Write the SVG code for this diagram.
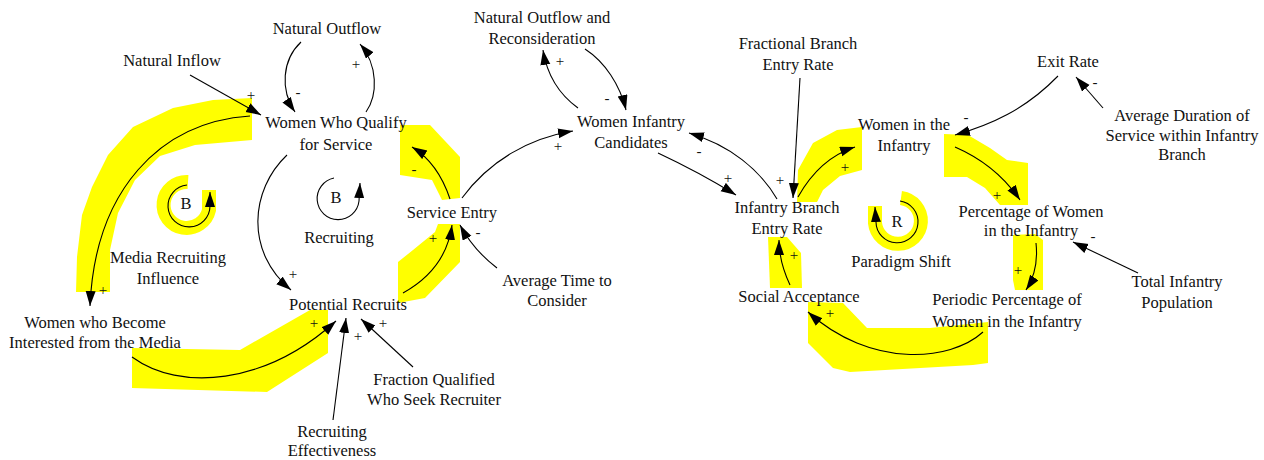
<svg xmlns="http://www.w3.org/2000/svg" width="1264" height="460" viewBox="0 0 1264 460">
<style>
.t{font-family:"Liberation Serif","Times New Roman",serif;font-size:16.5px;fill:#111;text-anchor:middle}
.p{font-family:"Liberation Serif","Times New Roman",serif;font-size:15px;fill:#111;text-anchor:middle}
.c{fill:none;stroke:#000;stroke-width:1.1;marker-end:url(#ah)}
.hl{fill:#ffff00;stroke:none}
.hs{fill:none;stroke:#ffff00;stroke-width:14}
</style>
<defs>
<marker id="ah" markerWidth="16" markerHeight="12" refX="15" refY="5" orient="auto" markerUnits="userSpaceOnUse"><path d="M0,0 L15,5 L0,10 Z" fill="#000"/></marker>
</defs>
<rect width="1264" height="460" fill="#fff"/>
<g id="highlights">
<path class="hl" d="M252,98 L213,100 L173,108 L133,127 L108,155 L92,187 L82,215 L77,257 L76,292 L110,292 L110,250 L118,213 L135,180 L160,156 L195,145 L252,140 Z"/>
<path class="hl" d="M132,348 L240,350 L310,310 L328,310 L328,353 L267,392 L132,388 Z"/>
<path class="hl" d="M400,125 L430,125 L460,157 L460,198 L442,200 L432,180 L400,175 Z"/>
<path class="hl" d="M438,224 L460,224 L460,262 L425,298 L398,303 L398,262 L413,250 L435,232 Z"/>
<path class="hl" d="M797,202 L798,170 L813,143 L837,130 L862,127 L862,170 L840,176 L823,190 L817,202 Z"/>
<path class="hl" d="M768,237 L787,237 L801,253 L802,288 L770,288 Z"/>
<path class="hl" d="M944,134 L968,135 L990,148 L1007,160 L1028,163 L1028,205 L1000,205 L985,188 L967,177 L944,177 Z"/>
<path class="hl" d="M1013,235 L1035,234 L1043,240 L1043,290 L1015,290 L1013,280 Z"/>
<path class="hl" d="M808,302 L843,303 L867,328 L930,328 L988,322 L988,363 L973,365 L850,372 L833,368 L808,343 Z"/>
<path class="hs" d="M188,182 A23,23 0 1,0 209,210 L209,190"/>
<path class="hs" d="M901,198 A23,23 0 1,1 875,223 L875,206"/>
</g>
<g id="connectors">
<path class="c" d="M190,75 L261,115"/>
<path class="c" d="M301,42 C282,60 280,90 295,112"/>
<path class="c" d="M366,112 C378,95 378,65 360,44"/>
<path class="c" d="M250,116 C160,122 95,190 90,306"/>
<path class="c" d="M287,155 C250,190 245,252 291,290"/>
<path class="c" d="M403,293 C430,278 448,255 452,225"/>
<path class="c" d="M450,199 C442,175 430,158 412,147"/>
<path class="c" d="M497,268 C480,255 468,240 460,225"/>
<path class="c" d="M462,198 C490,160 530,138 573,131"/>
<path class="c" d="M578,108 C560,95 547,75 543,50"/>
<path class="c" d="M585,49 C605,62 620,85 626,110"/>
<path class="c" d="M658,153 C690,168 715,182 736,195"/>
<path class="c" d="M777,199 C760,170 730,145 689,133"/>
<path class="c" d="M800,78 L793,198"/>
<path class="c" d="M798,197 C812,172 830,155 855,147"/>
<path class="c" d="M790,285 C782,268 779,255 779,240"/>
<path class="c" d="M1058,76 C1025,110 990,125 955,135"/>
<path class="c" d="M1103,108 L1076,77"/>
<path class="c" d="M955,147 C985,160 1005,178 1020,200"/>
<path class="c" d="M1036,243 C1038,262 1034,278 1026,290"/>
<path class="c" d="M1138,273 L1073,242"/>
<path class="c" d="M983,332 C950,362 870,368 808,312"/>
<path class="c" d="M132,357 C180,392 265,385 336,321"/>
<path class="c" d="M333,420 L346,318"/>
<path class="c" d="M413,367 L361,319"/>
</g>
<g id="loops">
<path class="c" d="M187,185 A21,21 0 1,0 210,206 L210,192"/>
<text class="t" x="186" y="209">B</text>
<path class="c" d="M334,178 A21,21 0 1,0 359,201 L360,183"/>
<text class="t" x="336" y="203">B</text>
<path class="c" d="M900,201 A21,21 0 1,1 876,222 L875,207"/>
<text class="t" x="897" y="227">R</text>
</g>
<g id="polarities">
<text class="p" x="251" y="100">+</text>
<text class="p" x="298" y="97">-</text>
<text class="p" x="356" y="69">+</text>
<text class="p" x="103" y="295">+</text>
<text class="p" x="293" y="279">+</text>
<text class="p" x="433" y="243">+</text>
<text class="p" x="414" y="174">-</text>
<text class="p" x="478" y="237">-</text>
<text class="p" x="558" y="151">+</text>
<text class="p" x="560" y="66">+</text>
<text class="p" x="607" y="103">-</text>
<text class="p" x="728" y="183">+</text>
<text class="p" x="699" y="156">-</text>
<text class="p" x="780" y="185">+</text>
<text class="p" x="845" y="172">+</text>
<text class="p" x="794" y="260">+</text>
<text class="p" x="966" y="122">-</text>
<text class="p" x="1095" y="87">-</text>
<text class="p" x="997" y="200">+</text>
<text class="p" x="1018" y="275">+</text>
<text class="p" x="1093" y="241">-</text>
<text class="p" x="830" y="318">+</text>
<text class="p" x="314" y="328">+</text>
<text class="p" x="358" y="341">+</text>
<text class="p" x="383" y="328">+</text>
</g>
<g id="n-natural-outflow"><text class="t" x="327" y="34">Natural Outflow</text></g>
<g id="n-natural-inflow"><text class="t" x="172" y="66">Natural Inflow</text></g>
<g id="n-women-qualify"><text class="t" x="336" y="128">Women Who Qualify</text><text class="t" x="336" y="150">for Service</text></g>
<g id="n-women-media"><text class="t" x="95" y="328">Women who Become</text><text class="t" x="95" y="348">Interested from the Media</text></g>
<g id="n-media-influence"><text class="t" x="168" y="263">Media Recruiting</text><text class="t" x="168" y="284">Influence</text></g>
<g id="n-recruiting-loop"><text class="t" x="339" y="243">Recruiting</text></g>
<g id="n-potential-recruits"><text class="t" x="348" y="310">Potential Recruits</text></g>
<g id="n-recruiting-effectiveness"><text class="t" x="332" y="437">Recruiting</text><text class="t" x="332" y="456">Effectiveness</text></g>
<g id="n-fraction-qualified"><text class="t" x="434" y="385">Fraction Qualified</text><text class="t" x="434" y="405">Who Seek Recruiter</text></g>
<g id="n-service-entry"><text class="t" x="452" y="218">Service Entry</text></g>
<g id="n-average-time"><text class="t" x="557" y="286">Average Time to</text><text class="t" x="557" y="306">Consider</text></g>
<g id="n-natural-outflow-reconsideration"><text class="t" x="542" y="23">Natural Outflow and</text><text class="t" x="542" y="44">Reconsideration</text></g>
<g id="n-women-candidates"><text class="t" x="631" y="127">Women Infantry</text><text class="t" x="631" y="148">Candidates</text></g>
<g id="n-fractional-branch"><text class="t" x="798" y="49">Fractional Branch</text><text class="t" x="798" y="70">Entry Rate</text></g>
<g id="n-infantry-branch-entry"><text class="t" x="787" y="213">Infantry Branch</text><text class="t" x="787" y="234">Entry Rate</text></g>
<g id="n-social-acceptance"><text class="t" x="799" y="302">Social Acceptance</text></g>
<g id="n-paradigm-shift"><text class="t" x="901" y="267">Paradigm Shift</text></g>
<g id="n-women-infantry"><text class="t" x="904" y="130">Women in the</text><text class="t" x="904" y="151">Infantry</text></g>
<g id="n-exit-rate"><text class="t" x="1068" y="67">Exit Rate</text></g>
<g id="n-average-duration"><text class="t" x="1182" y="121">Average Duration of</text><text class="t" x="1182" y="141">Service within Infantry</text><text class="t" x="1182" y="160">Branch</text></g>
<g id="n-percentage"><text class="t" x="1031" y="217">Percentage of Women</text><text class="t" x="1031" y="236">in the Infantry</text></g>
<g id="n-periodic-percentage"><text class="t" x="1007" y="305">Periodic Percentage of</text><text class="t" x="1007" y="327">Women in the Infantry</text></g>
<g id="n-total-population"><text class="t" x="1177" y="287">Total Infantry</text><text class="t" x="1177" y="308">Population</text></g>
</svg>
